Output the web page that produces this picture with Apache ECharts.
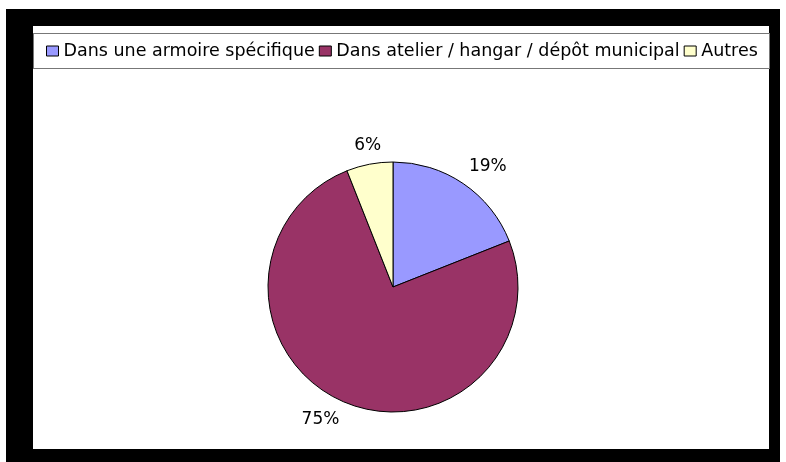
<!DOCTYPE html>
<html>
<head>
<meta charset="utf-8">
<script src="https://cdn.jsdelivr.net/npm/echarts@6/dist/echarts.min.js"></script>
<style>
  html, body { margin: 0; padding: 0; background: #ffffff; width: 786px; height: 462px; overflow: hidden; }
  #frame { position: absolute; left: 6px; top: 9px; width: 774px; height: 453px; background: #000000; }
  #inner { position: absolute; left: 33px; top: 26px; width: 736px; height: 423px; background: #ffffff; }
  #legendBox { position: absolute; left: 33px; top: 33px; width: 735px; height: 34px; border: 1px solid #777777; }
  #chart { position: absolute; left: 0; top: 0; width: 786px; height: 462px; }
</style>
</head>
<body>
<div id="frame"></div>
<div id="inner"></div>
<div id="legendBox"></div>
<div id="chart"></div>
<script>
const categories = ['Dans une armoire spécifique', 'Dans atelier / hangar / dépôt municipal', 'Autres'];
const values = [19, 75, 6];
const colors = ['#9999FF', '#993366', '#FFFFCC'];

const FONT = '"DejaVu Sans", sans-serif';
const CENTER = [393, 287];
const RADIUS = 125;
const LABEL_GAP = 10;

const pieData = categories.map((name, i) => ({ name: name, value: values[i], itemStyle: { color: colors[i] } }));

// fallback anchor from the data (mid-angle of each slice), used only if the library gives no guide points
function fallbackAnchor(idx) {
  const total = values.reduce((a, b) => a + b, 0);
  let before = 0;
  for (let i = 0; i < idx; i++) before += values[i];
  const mid = (before + values[idx] / 2) / total * Math.PI * 2;
  const ux = Math.sin(mid), uy = -Math.cos(mid);
  return { ax: CENTER[0] + (RADIUS + LABEL_GAP) * ux, ay: CENTER[1] + (RADIUS + LABEL_GAP) * uy, ux: ux, uy: uy };
}

const chart = echarts.init(document.getElementById('chart'), null, { renderer: 'canvas' });
chart.setOption({
  animation: false,
  backgroundColor: 'transparent',
  legend: {
    data: categories,
    left: 46,
    top: 41,
    icon: 'rect',
    itemWidth: 12,
    itemHeight: 10,
    itemGap: 4,
    padding: 0,
    selectedMode: false,
    itemStyle: { borderColor: '#000000', borderWidth: 1 },
    textStyle: { fontFamily: FONT, fontSize: 17.5, color: '#000000', lineHeight: 20 }
  },
  series: [
    {
      type: 'pie',
      center: CENTER,
      radius: [0, RADIUS],
      startAngle: 90,
      clockwise: true,
      silent: true,
      avoidLabelOverlap: false,
      itemStyle: { borderColor: '#000000', borderWidth: 1 },
      emphasis: { disabled: true },
      label: {
        show: true,
        position: 'outside',
        formatter: '{c}%',
        fontFamily: FONT,
        fontSize: 17,
        color: '#000000'
      },
      labelLine: { show: true, length: LABEL_GAP, length2: 0, lineStyle: { opacity: 0, width: 0 } },
      labelLayout: function (p) {
        let ax, ay, ux, uy;
        const pts = p.labelLinePoints;
        if (pts && pts.length >= 2) {
          ax = pts[1][0]; ay = pts[1][1];
          const ddx = pts[1][0] - pts[0][0], ddy = pts[1][1] - pts[0][1];
          const len = Math.hypot(ddx, ddy) || 1;
          ux = ddx / len; uy = ddy / len;
        } else {
          const f = fallbackAnchor(p.dataIndex);
          ax = f.ax; ay = f.ay; ux = f.ux; uy = f.uy;
        }
        const w = p.labelRect.width, h = p.labelRect.height;
        const ox = Math.abs(ux) > 0.3 ? Math.sign(ux) * w / 2 : 0;
        const oy = Math.abs(uy) > 0.3 ? Math.sign(uy) * h / 2 : 0;
        return { x: ax + ox, y: ay + oy, align: 'center', verticalAlign: 'middle' };
      },
      data: pieData
    }
  ]
});
</script>
</body>
</html>
